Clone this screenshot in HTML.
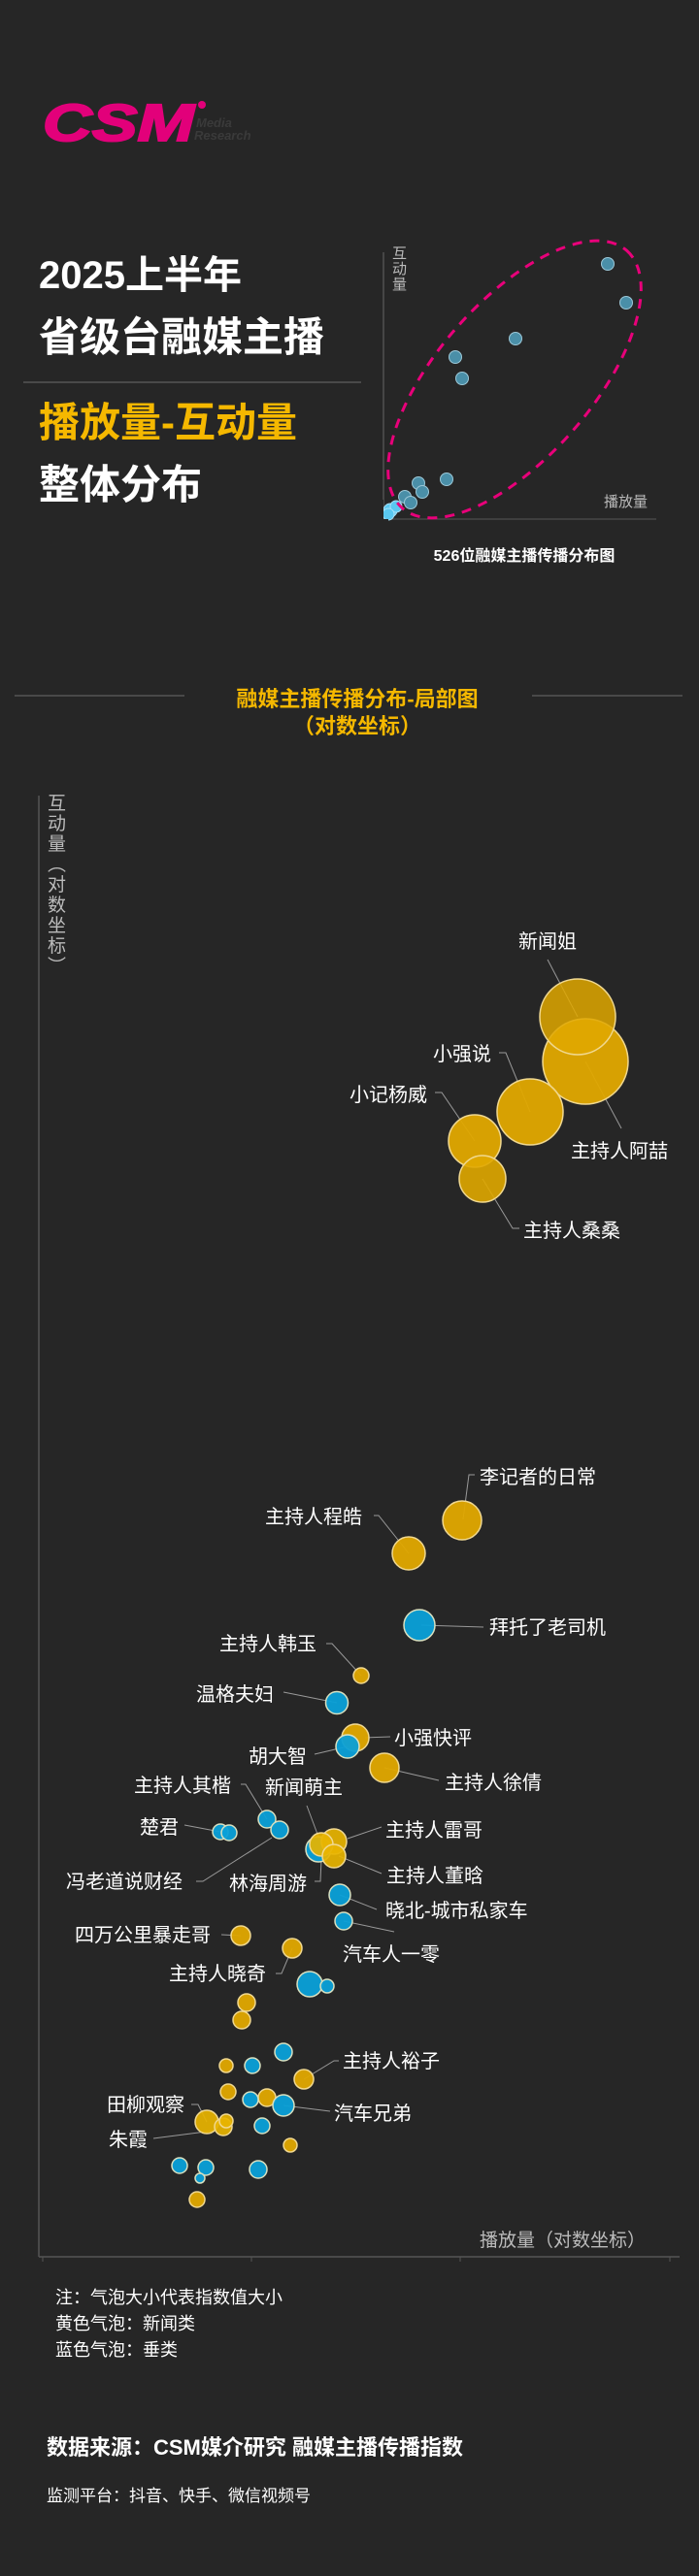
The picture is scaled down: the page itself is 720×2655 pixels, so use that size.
<!DOCTYPE html>
<html><head><meta charset="utf-8"><style>
html,body{margin:0;padding:0;background:#262626;}
svg{display:block;}
text{font-family:"Liberation Sans","Noto Sans CJK SC",sans-serif;}
</style></head><body>
<svg width="720" height="2655" viewBox="0 0 720 2655" xmlns="http://www.w3.org/2000/svg">
<rect width="720" height="2655" fill="#262626"/>
<!-- logo -->
<text x="44" y="145" font-size="54" font-weight="bold" font-style="italic" fill="#e2007a" stroke="#e2007a" stroke-width="2" textLength="156" lengthAdjust="spacingAndGlyphs">CSM</text>
<circle cx="208" cy="108" r="4" fill="#e2007a"/>
<text x="202" y="131" font-size="13" font-style="italic" fill="#3a3a3a" font-weight="bold">Media</text>
<text x="200" y="144" font-size="13" font-style="italic" fill="#3a3a3a" font-weight="bold">Research</text>
<!-- titles -->
<g font-weight="bold" fill="#fff">
<text x="40" y="297" font-size="40">2025上半年</text>
<text x="40" y="362" font-size="42">省级台融媒主播</text>
<text x="40" y="450" font-size="42" fill="#f5b800">播放量-互动量</text>
<text x="40" y="514" font-size="42">整体分布</text>
</g>
<line x1="24" y1="394" x2="372" y2="394" stroke="#555" stroke-width="1.5"/>
<!-- small chart -->
<line x1="395" y1="260" x2="395" y2="535" stroke="#666" stroke-width="1"/>
<line x1="395" y1="535" x2="676" y2="535" stroke="#555" stroke-width="1"/>
<text font-size="15" fill="#bbb"><tspan x="404" y="266">互</tspan><tspan x="404" y="282">动</tspan><tspan x="404" y="298">量</tspan></text>
<text x="622" y="522" font-size="15" fill="#bbb">播放量</text>
<g fill="#4a8fa8" stroke="#9cc8d8" stroke-width="1">
<circle cx="626" cy="272" r="6.5"/><circle cx="645" cy="312" r="6.5"/><circle cx="531" cy="349" r="6.5"/>
<circle cx="469" cy="368" r="6.5"/><circle cx="476" cy="390" r="6.5"/><circle cx="460" cy="494" r="6.5"/>
<circle cx="431" cy="498" r="6.5"/><circle cx="435" cy="507" r="6.5"/><circle cx="417" cy="512" r="6.5"/><circle cx="423" cy="518" r="6.5"/>
</g>
<g fill="#5ac8f0" stroke="#a8e0f8" stroke-width="1">
<circle cx="402" cy="526" r="7"/><circle cx="408" cy="522" r="6"/><circle cx="400" cy="530" r="6"/>
</g>
<rect x="380" y="535" width="20" height="12" fill="#262626"/>
<rect x="383" y="515" width="12" height="25" fill="#262626"/>
<ellipse cx="530" cy="391" rx="176" ry="80" transform="rotate(-49 530 391)" fill="none" stroke="#e8007a" stroke-width="3" stroke-dasharray="10,8"/>
<text x="540" y="578" font-size="16" font-weight="bold" fill="#fff" text-anchor="middle">526位融媒主播传播分布图</text>
<!-- section header -->
<line x1="15" y1="717" x2="190" y2="717" stroke="#555" stroke-width="1.5"/>
<line x1="548" y1="717" x2="703" y2="717" stroke="#555" stroke-width="1.5"/>
<text x="368" y="728" font-size="22" font-weight="bold" fill="#f5b800" text-anchor="middle">融媒主播传播分布-局部图</text>
<text x="368" y="756" font-size="22" font-weight="bold" fill="#f5b800" text-anchor="middle">（对数坐标）</text>
<!-- main chart axes -->
<line x1="40" y1="820" x2="40" y2="2326" stroke="#555" stroke-width="1.5"/>
<line x1="40" y1="2326" x2="700" y2="2326" stroke="#555" stroke-width="1.5"/>
<g stroke="#555"><line x1="44" y1="2326" x2="44" y2="2331"/><line x1="259" y1="2326" x2="259" y2="2331"/><line x1="474" y1="2326" x2="474" y2="2331"/><line x1="690" y1="2326" x2="690" y2="2331"/></g>
<text font-size="19" fill="#bbb">
<tspan x="49" y="834">互</tspan><tspan x="49" y="855">动</tspan><tspan x="49" y="876">量</tspan><tspan x="49" y="897">︵</tspan><tspan x="49" y="918">对</tspan><tspan x="49" y="939">数</tspan><tspan x="49" y="960">坐</tspan><tspan x="49" y="981">标</tspan><tspan x="49" y="1002">︶</tspan>
</text>
<text x="494" y="2315" font-size="19" fill="#bbb">播放量（对数坐标）</text>
<!-- leader lines -->
<g stroke="#999" stroke-width="1" fill="none">
<polyline points="564,989 595,1048"/>
<polyline points="514,1085 521,1085 546,1146"/>
<polyline points="448,1126 455,1126 489,1176"/>
<polyline points="603,1094 640,1163"/>
<polyline points="497,1215 528,1266 535,1266"/>
<polyline points="477,1566 483,1520 489,1520"/>
<polyline points="385,1562 390,1562 421,1601"/>
<polyline points="434,1675 498,1677"/>
<polyline points="336,1694 342,1694 372,1727"/>
<polyline points="292,1744 347,1755"/>
<polyline points="376,1791 402,1790"/>
<polyline points="324,1808 358,1800"/>
<polyline points="396,1822 452,1835"/>
<polyline points="248,1839 253,1839 275,1875"/>
<polyline points="316,1861 331,1901"/>
<polyline points="190,1881 227,1888"/>
<polyline points="202,1939 209,1939 280,1894"/>
<polyline points="324,1939 330,1939 331,1916"/>
<polyline points="358,1895 393,1883"/>
<polyline points="349,1913 393,1931"/>
<polyline points="350,1953 388,1968"/>
<polyline points="354,1980 406,1991"/>
<polyline points="228,1994 248,1995"/>
<polyline points="284,2034 290,2034 301,2008"/>
<polyline points="313,2143 344,2124 349,2124"/>
<polyline points="292,2170 340,2176"/>
<polyline points="197,2169 204,2169 213,2187"/>
<polyline points="158,2204 220,2196"/>
</g>
<!-- bubbles -->
<g stroke="#f0d890" stroke-width="1.5" fill="#e0a800" fill-opacity="0.95">
<circle cx="603" cy="1094" r="44"/>
<circle cx="595" cy="1048" r="39" fill-opacity="0.85"/>
<circle cx="546" cy="1146" r="34"/>
<circle cx="489" cy="1176" r="27"/>
<circle cx="497" cy="1215" r="24" fill-opacity="0.9"/>
<circle cx="476" cy="1567" r="20"/>
<circle cx="421" cy="1601" r="17"/>
<circle cx="372" cy="1727" r="8"/>
<circle cx="366" cy="1791" r="14"/>
<circle cx="396" cy="1822" r="15"/>
<circle cx="248" cy="1995" r="10"/>
<circle cx="301" cy="2008" r="10"/>
<circle cx="254" cy="2064" r="9"/>
<circle cx="249" cy="2082" r="9"/>
<circle cx="233" cy="2129" r="7"/>
<circle cx="313" cy="2143" r="10"/>
<circle cx="235" cy="2156" r="8"/>
<circle cx="275" cy="2162" r="9"/>
<circle cx="299" cy="2211" r="7"/>
<circle cx="203" cy="2267" r="8"/>
</g>
<g stroke="#d8e0c0" stroke-width="1.5" fill="#0aa0d8" fill-opacity="0.95">
<circle cx="432" cy="1675" r="16"/>
<circle cx="347" cy="1755" r="11.5"/>
<circle cx="358" cy="1800" r="12"/>
<circle cx="275" cy="1875" r="9"/>
<circle cx="288" cy="1886" r="9"/>
<circle cx="227" cy="1888" r="8"/>
<circle cx="236" cy="1889" r="8"/>
<circle cx="328" cy="1906" r="13"/>
<circle cx="350" cy="1953" r="11"/>
<circle cx="354" cy="1980" r="9"/>
<circle cx="319" cy="2045" r="13"/>
<circle cx="337" cy="2047" r="7"/>
<circle cx="292" cy="2115" r="9"/>
<circle cx="260" cy="2129" r="8"/>
<circle cx="258" cy="2164" r="8"/>
<circle cx="292" cy="2170" r="11"/>
<circle cx="270" cy="2191" r="8"/>
<circle cx="185" cy="2232" r="8"/>
<circle cx="212" cy="2234" r="8"/>
<circle cx="206" cy="2245" r="5"/>
<circle cx="266" cy="2236" r="9"/>
</g>
<g stroke="#f0d890" stroke-width="1.5" fill="#e8b400" fill-opacity="0.92">
<circle cx="344" cy="1898" r="13"/>
<circle cx="331" cy="1901" r="12"/>
<circle cx="344" cy="1913" r="12"/>
<circle cx="213" cy="2187" r="12"/>
<circle cx="230" cy="2192" r="9"/>
<circle cx="233" cy="2186" r="7"/>
</g>
<!-- labels -->
<g font-size="20" fill="#fff">
<text x="564" y="977" text-anchor="middle">新闻姐</text>
<text x="446" y="1093">小强说</text>
<text x="360" y="1135">小记杨威</text>
<text x="588" y="1193">主持人阿喆</text>
<text x="539" y="1275">主持人桑桑</text>
<text x="494" y="1529">李记者的日常</text>
<text x="273" y="1570">主持人程皓</text>
<text x="504" y="1684">拜托了老司机</text>
<text x="226" y="1701">主持人韩玉</text>
<text x="202" y="1753">温格夫妇</text>
<text x="406" y="1798">小强快评</text>
<text x="256" y="1817">胡大智</text>
<text x="458" y="1844">主持人徐倩</text>
<text x="138" y="1847">主持人其楷</text>
<text x="273" y="1849">新闻萌主</text>
<text x="144" y="1890">楚君</text>
<text x="397" y="1893">主持人雷哥</text>
<text x="68" y="1946">冯老道说财经</text>
<text x="236" y="1948">林海周游</text>
<text x="398" y="1940">主持人董晗</text>
<text x="397" y="1976">晓北-城市私家车</text>
<text x="77" y="2001">四万公里暴走哥</text>
<text x="353" y="2021">汽车人一零</text>
<text x="174" y="2041">主持人晓奇</text>
<text x="353" y="2131">主持人裕子</text>
<text x="110" y="2176">田柳观察</text>
<text x="344" y="2185">汽车兄弟</text>
<text x="112" y="2212">朱霞</text>
</g>
<!-- notes -->
<g font-size="18" fill="#fff">
<text x="57" y="2374">注：气泡大小代表指数值大小</text>
<text x="57" y="2401">黄色气泡：新闻类</text>
<text x="57" y="2428">蓝色气泡：垂类</text>
</g>
<text x="48" y="2530" font-size="22" font-weight="bold" fill="#fff">数据来源：CSM媒介研究  融媒主播传播指数</text>
<text x="48" y="2578" font-size="17" fill="#fff">监测平台：抖音、快手、微信视频号</text>
</svg>
</body></html>
